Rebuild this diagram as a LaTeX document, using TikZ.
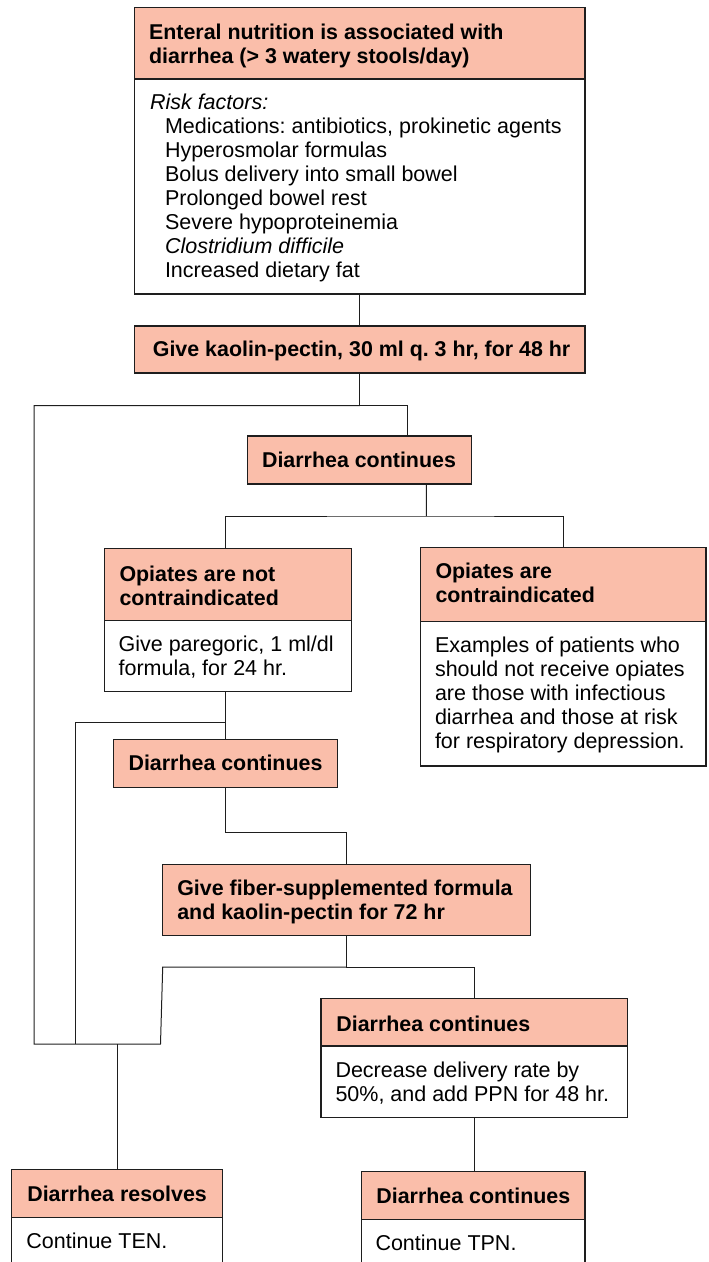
\documentclass[tikz,border=0pt]{standalone}
\usepackage{fontspec}
\setmainfont{Liberation Sans}
\definecolor{salmon}{RGB}{250,190,170}
\definecolor{linec}{RGB}{30,30,30}
\frenchspacing
\begin{document}
\begin{tikzpicture}[x=1pt,y=-1pt,
  box/.style={draw=linec, line width=1.2pt, anchor=north west, inner sep=0pt, outer sep=0pt},
  hdr/.style={box, fill=salmon},
  bdy/.style={box, fill=white},
  txt/.style={anchor=north west, inner sep=0pt, outer sep=0pt, align=left, font=\fontsize{21.5}{24}\selectfont\frenchspacing},
  btxt/.style={txt, font=\fontsize{21.4}{24}\selectfont\bfseries\frenchspacing},
  conn/.style={draw=linec, line width=1pt}]
\useasboundingbox (0,0) rectangle (709,1262);
\clip (0,0) rectangle (709,1262);
% ---- boxes ----
\node[bdy, minimum width=450.5pt, minimum height=215pt] (Ab) at (134.5,79) {};
\node[hdr, minimum width=450.5pt, minimum height=71.3pt] (Ah) at (134.5,7.7) {};
\node[hdr, minimum width=450.5pt, minimum height=47pt] (B) at (134.5,326) {};
\node[hdr, minimum width=224.5pt, minimum height=48pt] (C) at (247.3,436) {};
\node[bdy, minimum width=246.9pt, minimum height=71.4pt] (Db) at (104.5,620.3) {};
\node[hdr, minimum width=246.9pt, minimum height=72pt] (Dh) at (104.5,548.3) {};
\node[bdy, minimum width=285.4pt, minimum height=144.3pt] (Eb) at (420.5,621.7) {};
\node[hdr, minimum width=285.4pt, minimum height=74.4pt] (Eh) at (420.5,547.3) {};
\node[hdr, minimum width=224.5pt, minimum height=48pt] (F) at (113.2,739.3) {};
\node[hdr, minimum width=368.2pt, minimum height=71.4pt] (G) at (162.3,864.3) {};
\node[bdy, minimum width=306.4pt, minimum height=71.3pt] (Hb) at (320.9,1046) {};
\node[hdr, minimum width=306.4pt, minimum height=47.7pt] (Hh) at (320.9,998.3) {};
\node[bdy, minimum width=210.5pt, minimum height=60pt] (Ib) at (11.8,1217.7) {};
\node[hdr, minimum width=210.5pt, minimum height=48pt] (Ih) at (11.8,1169.7) {};
\node[bdy, minimum width=223.6pt, minimum height=60pt] (Jb) at (361.4,1219.7) {};
\node[hdr, minimum width=223.6pt, minimum height=48pt] (Jh) at (361.4,1171.7) {};
% ---- texts ----
\node[btxt] (Aht) at (149.1,22.5) {\strut Enteral nutrition is associated with\\diarrhea (> 3 watery stools/day)};
\node[txt] (Abt) at (150,92.7) {\strut\textit{Risk factors:}\\
\hspace*{15pt}Medications: antibiotics, prokinetic agents\\
\hspace*{15pt}Hyperosmolar formulas\\
\hspace*{15pt}Bolus delivery into small bowel\\
\hspace*{15pt}Prolonged bowel rest\\
\hspace*{15pt}Severe hypoproteinemia\\
\hspace*{15pt}\textit{Clostridium difficile}\\
\hspace*{15pt}Increased dietary fat};
\node[btxt, anchor=north] (Bt) at (361.6,339.9) {\strut Give kaolin-pectin, 30 ml q. 3 hr, for 48 hr};
\node[btxt, anchor=north] (Ct) at (359,450.9) {\strut Diarrhea continues};
\node[btxt] (Dht) at (119.5,564.2) {\strut Opiates are not\\contraindicated};
\node[txt] (Dbt) at (118.6,634.9) {\strut Give paregoric, 1 ml/dl\\formula, for 24 hr.};
\node[btxt] (Eht) at (435.5,561.5) {\strut Opiates are\\contraindicated};
\node[txt] (Ebt) at (435,635.9) {\strut Examples of patients who\\should not receive opiates\\are those with infectious\\diarrhea and those at risk\\for respiratory depression.};
\node[btxt, anchor=north] (Ft) at (225.5,753.2) {\strut Diarrhea continues};
\node[btxt] (Gt) at (177.3,878.2) {\strut Give fiber-supplemented formula\\and kaolin-pectin for 72 hr};
\node[btxt] (Hht) at (336.4,1014.9) {\strut Diarrhea continues};
\node[txt] (Hbt) at (335.5,1060.9) {\strut Decrease delivery rate by\\50\%, and add PPN for 48 hr.};
\node[btxt] (Iht) at (27.3,1184.9) {\strut Diarrhea resolves};
\node[txt] (Ibt) at (26.4,1231.5) {\strut Continue TEN.};
\node[btxt] (Jht) at (376.4,1186.5) {\strut Diarrhea continues};
\node[txt] (Jbt) at (375.5,1233.9) {\strut Continue TPN.};
% ---- junctions ----
\coordinate (j1) at (359.75,405.7);
\coordinate (L1) at (34.1,405.7);
\coordinate (L2) at (34.1,1044);
\coordinate (j2) at (426.4,516);
\coordinate (j3) at (225.45,722.3);
\coordinate (L3) at (75.5,722.3);
\coordinate (L4) at (75.5,1044);
\coordinate (j5) at (225.45,832.7);
\coordinate (j6) at (346.4,967);
\coordinate (m3) at (162.7,967);
\coordinate (m2) at (160.5,1044);
\coordinate (j7) at (117.05,1044);
% ---- connectors ----
\draw[conn] (Ab.south) -- (B.north);
\draw[conn] (B.south) -- (j1) -| ([xshift=47.8pt]C.north);
\draw[conn] (j1) -- (L1) -- (L2) -- (m2) -- (m3) -- (j6);
\draw[conn] ([xshift=66.9pt]C.south) -- (j2);
\draw[conn] ([xshift=-2.5pt]Dh.north) |- (j2) -| (Eh.north);
\draw[conn] ([xshift=-2.5pt]Db.south) -- (F.north);
\draw[conn] (j3) -- (L3) -- (L4);
\draw[conn] (F.south) -- (j5) -| (G.north);
\draw[conn] (G.south) -- (j6) -| (Hh.north);
\draw[conn] (j7) -- (Ih.north);
\draw[conn] (Hb.south) -- (Hb.south |- Jh.north);
\end{tikzpicture}
\end{document}
